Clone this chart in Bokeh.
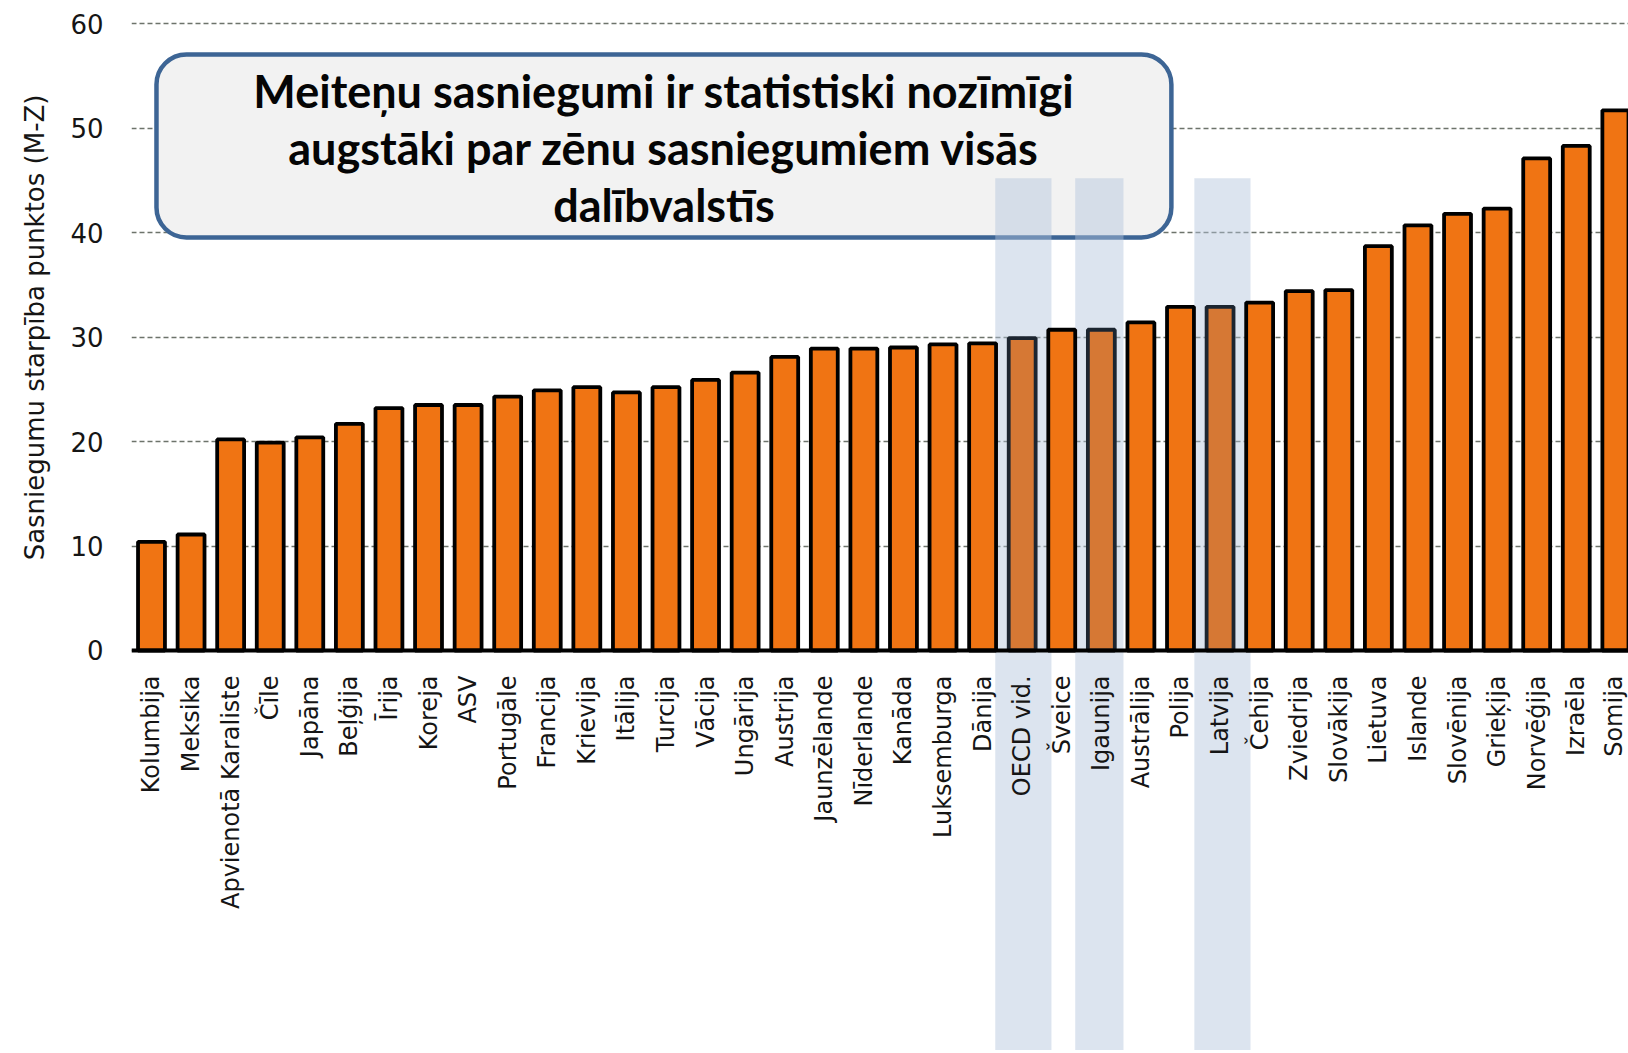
import math
from bokeh.plotting import figure
from bokeh.models import Range1d, FixedTicker, BoxAnnotation, Label, Title
from bokeh.embed import file_html
from bokeh.resources import INLINE

countries = ["Kolumbija", "Meksika", "Apvienotā Karaliste", "Čīle", "Japāna", "Beļģija",
             "Īrija", "Koreja", "ASV", "Portugāle", "Francija", "Krievija", "Itālija",
             "Turcija", "Vācija", "Ungārija", "Austrija", "Jaunzēlande", "Nīderlande",
             "Kanāda", "Luksemburga", "Dānija", "OECD vid.", "Šveice", "Igaunija",
             "Austrālija", "Polija", "Latvija", "Čehija", "Zviedrija", "Slovākija",
             "Lietuva", "Islande", "Slovēnija", "Grieķija", "Norvēģija", "Izraēla", "Somija"]
gap = [10.4, 11.1, 20.2, 19.9, 20.4, 21.7, 23.2, 23.5, 23.5, 24.3, 24.9, 25.2, 24.7,
       25.2, 25.9, 26.6, 28.1, 28.9, 28.9, 29.0, 29.3, 29.4, 29.9, 30.7, 30.7,
       31.4, 32.9, 32.9, 33.3, 34.4, 34.5, 38.7, 40.7, 41.8, 42.3, 47.1, 48.3, 51.7]
highlighted = ["OECD vid.", "Igaunija", "Latvija"]
y_ticks = [0, 10, 20, 30, 40, 50, 60]
y_title = "Sasniegumu starpība punktos (M-Z)"
callout_lines = ["Meiteņu sasniegumi ir statistiski nozīmīgi",
                 "augstāki par zēnu sasniegumiem visās",
                 "dalībvalstīs"]

xs = list(range(len(countries)))
fills = ["#d67834" if c in highlighted else "#f07413" for c in countries]
lines = ["#1c2530" if c in highlighted else "#000000" for c in countries]

p = figure(width=1628, height=1050, output_backend="svg", toolbar_location=None,
           x_range=Range1d(-0.505, 37.32), y_range=Range1d(-38.29, 61.26),
           min_border_left=131, min_border_right=0, min_border_top=10, min_border_bottom=0)
p.outline_line_color = None
p.background_fill_color = "#ffffff"
p.border_fill_color = "#ffffff"

# grid
p.xgrid.visible = False
p.ygrid.ticker = FixedTicker(ticks=y_ticks)
p.ygrid.grid_line_color = "#6d736b"
p.ygrid.grid_line_width = 1.5
p.ygrid.grid_line_dash = "5 3"

# callout box (behind overlays)
callout = BoxAnnotation(left=0.126, right=25.77, top=57.05, bottom=39.53,
                        fill_color="#f2f2f2", fill_alpha=1.0,
                        line_color="#3d6595", line_alpha=1.0, line_width=4.5,
                        border_radius=30, level="underlay")
p.add_layout(callout)

# highlight overlays
offsets = {"OECD vid.": (0.03, 0.71), "Igaunija": (-0.05, 0.61), "Latvija": (0.06, 0.71)}
for name in highlighted:
    i = countries.index(name)
    off, half = offsets[name]
    p.add_layout(BoxAnnotation(left=i + off - half, right=i + off + half, top=45.2, bottom=-60,
                               fill_color="#b1c3db", fill_alpha=0.45, line_alpha=0,
                               level="underlay"))

p.vbar(x=xs, top=gap, width=0.68, fill_color=fills, line_color=lines, line_width=3.8)

# axes
xa = p.xaxis[0]
xa.fixed_location = 0
xa.ticker = FixedTicker(ticks=xs)
xa.major_label_overrides = {i: c for i, c in zip(xs, countries)}
xa.major_label_orientation = math.pi / 2
xa.major_label_text_font = "DejaVu Sans"
xa.major_label_text_font_size = "24px"
xa.major_label_text_color = "#151515"
xa.major_label_standoff = 19
xa.major_tick_line_color = None
xa.minor_tick_line_color = None
xa.axis_line_color = "#000000"
xa.axis_line_width = 4

ya = p.yaxis[0]
ya.ticker = FixedTicker(ticks=y_ticks)
ya.major_label_text_font = "DejaVu Sans"
ya.major_label_text_font_size = "26px"
ya.major_label_text_color = "#151515"
ya.major_label_standoff = 22
ya.major_tick_line_color = None
ya.minor_tick_line_color = None
ya.axis_line_color = None

# y axis title placed in the left panel, aligned to the 0-60 value span
p.add_layout(Title(text=y_title, align="right", offset=84, standoff=35,
                   text_font="DejaVu Sans", text_font_size="26px",
                   text_font_style="normal", text_color="#151515"), "left")

for txt, yv in zip(callout_lines, [53.6, 48.1, 42.6]):
    p.add_layout(Label(x=12.95, y=yv, text=txt, text_align="center", text_baseline="middle",
                       text_font="Lato", text_font_style="bold", text_font_size="45px",
                       text_color="#050505"))

open("out.html", "w").write(file_html(p, INLINE))
